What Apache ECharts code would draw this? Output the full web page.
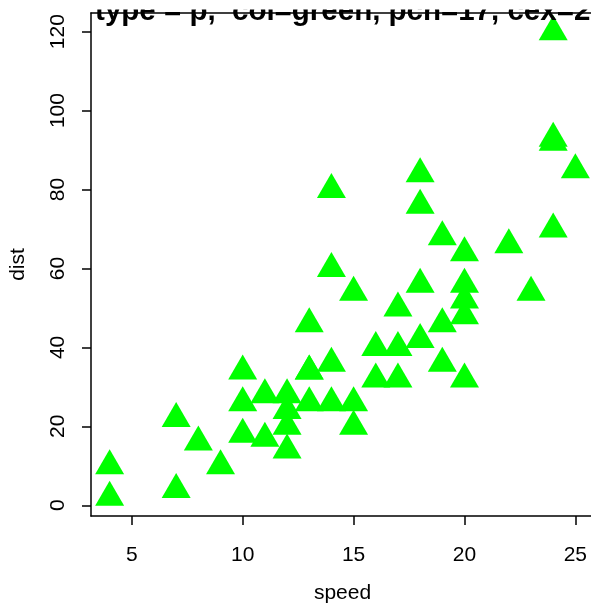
<!DOCTYPE html>
<html>
<head>
<meta charset="utf-8">
<script src="https://cdn.jsdelivr.net/npm/echarts@6/dist/echarts.min.js"></script>
<style>
html,body{margin:0;padding:0;background:#fff;}
#c{width:591px;height:610px;}
</style>
</head>
<body>
<div id="c"></div>
<script>
const speed = [4,4,7,7,8,9,10,10,10,11,11,12,12,12,12,13,13,13,13,14,14,14,14,15,15,15,16,16,17,17,17,18,18,18,18,19,19,19,20,20,20,20,20,22,23,24,24,24,24,25];
const dist = [2,10,4,22,16,10,18,26,34,17,28,14,20,24,28,26,34,34,46,26,36,60,80,20,26,54,32,40,32,40,50,42,56,76,84,36,46,68,32,48,52,56,64,66,54,70,92,93,120,85];
const xTicks = [5,10,15,20,25];
const yTicks = [0,20,40,60,80,100,120];
const titleText = 'type = p,  col=green, pch=17, cex=2';
const xName = 'speed';
const yName = 'dist';

const FONT = "'Liberation Sans', Arial, Helvetica, sans-serif";
const points = speed.map((s, i) => [s, dist[i]]);

const chart = echarts.init(document.getElementById('c'), null, {renderer: 'canvas'});
chart.setOption({
  animation: false,
  backgroundColor: '#ffffff',
  grid: {
    left: 91, top: 13, width: 503, height: 503,
    outerBoundsMode: 'none',
    containLabel: false,
    show: false
  },
  xAxis: [{
    type: 'value', min: 3.16, max: 25.84, position: 'bottom',
    splitLine: {show: false},
    axisLine: {show: true, onZero: false, lineStyle: {color: '#000', width: 1.5}},
    axisTick: {show: true, customValues: xTicks, length: 9, lineStyle: {color: '#000', width: 1.5}},
    axisLabel: {customValues: xTicks, color: '#000', fontSize: 21, fontFamily: FONT, margin: 29},
    name: xName, nameLocation: 'middle', nameGap: 67,
    nameTextStyle: {color: '#000', fontSize: 21, fontFamily: FONT}
  }, {
    type: 'value', min: 3.16, max: 25.84, position: 'top',
    splitLine: {show: false},
    axisLine: {show: true, onZero: false, lineStyle: {color: '#000', width: 1.5}},
    axisTick: {show: false},
    axisLabel: {show: false}
  }],
  yAxis: {
    type: 'value', min: -2.72, max: 124.72, position: 'left',
    splitLine: {show: false},
    axisLine: {show: true, onZero: false, lineStyle: {color: '#000', width: 1.5}},
    axisTick: {show: true, customValues: yTicks, length: 9, lineStyle: {color: '#000', width: 1.5}},
    axisLabel: {customValues: yTicks, color: '#000', fontSize: 21, fontFamily: FONT, rotate: 90, margin: 22.5},
    name: yName, nameLocation: 'middle', nameGap: 62, nameRotate: 90,
    nameTextStyle: {color: '#000', fontSize: 21, fontFamily: FONT}
  },
  series: [{
    type: 'scatter',
    xAxisIndex: 0,
    data: points,
    symbol: 'triangle',
    symbolSize: [29, 25],
    symbolOffset: [0, -4],
    itemStyle: {color: '#00FF00', opacity: 1},
    silent: true,
    emphasis: {disabled: true},
    clip: false
  }],
  graphic: [{
    type: 'text',
    z: 100,
    x: 342.7, y: 11.6,
    style: {
      text: titleText,
      fill: '#000',
      font: "bold 29.5px 'Liberation Sans', Arial, Helvetica, sans-serif",
      align: 'center',
      verticalAlign: 'middle'
    }
  }, {
    type: 'rect',
    z: 101,
    silent: true,
    shape: {x: 0, y: 0, width: 591, height: 9.5},
    style: {fill: '#ffffff'}
  }]
});
</script>
</body>
</html>
